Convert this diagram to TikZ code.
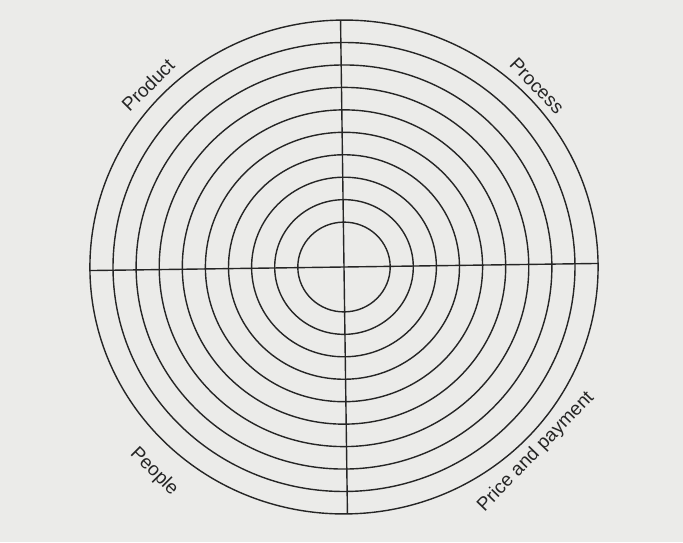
\documentclass[tikz,border=0pt]{standalone}
\usepackage{fontspec}
\setmainfont{Liberation Sans}
\usepackage{xcolor}
\usetikzlibrary{positioning}
\definecolor{paper}{HTML}{EBEBE9}
\definecolor{ink}{HTML}{252525}
\tikzset{
  ring/.style={draw=ink, line width=1.4pt},
  axis/.style={draw=ink, line width=1.4pt},
  lbl/.style={font=\fontsize{19}{21}\selectfont, text=ink, inner sep=0pt},
}
\begin{document}
\begin{tikzpicture}[x=1pt, y=1pt]
  % paper
  \fill[paper] (-344,-275) rectangle (339,267);
  \useasboundingbox (-344,-275) rectangle (339,267);
  \begin{scope}[rotate=0.8]
    % rings
    \foreach \k [evaluate=\k as \rx using 23.1*(\k+1),
                 evaluate=\k as \ry using 22.45*(\k+1)] in {1,...,10}
      \draw[ring] (0,0) ellipse [x radius=\rx pt, y radius=\ry pt];
    % axes
    \coordinate (top) at (0,247);
    \coordinate (bot) at (0,-247);
    \coordinate (lft) at (-254,0);
    \coordinate (rgt) at (254,0);
    \draw[axis] (top) -- (bot);
    \draw[axis] (lft) -- (rgt);
  \end{scope}
  % labels
  \node[lbl, rotate=45] (product) at (-196,182) {Product};
  \node[lbl, rotate=-46] (process) at (193,181) {Process};
  \node[lbl, rotate=-45] (people) at (-190,-205) {People};
  \node[lbl, rotate=46] (price) at (192,-185) {Price and payment};
\end{tikzpicture}
\end{document}
